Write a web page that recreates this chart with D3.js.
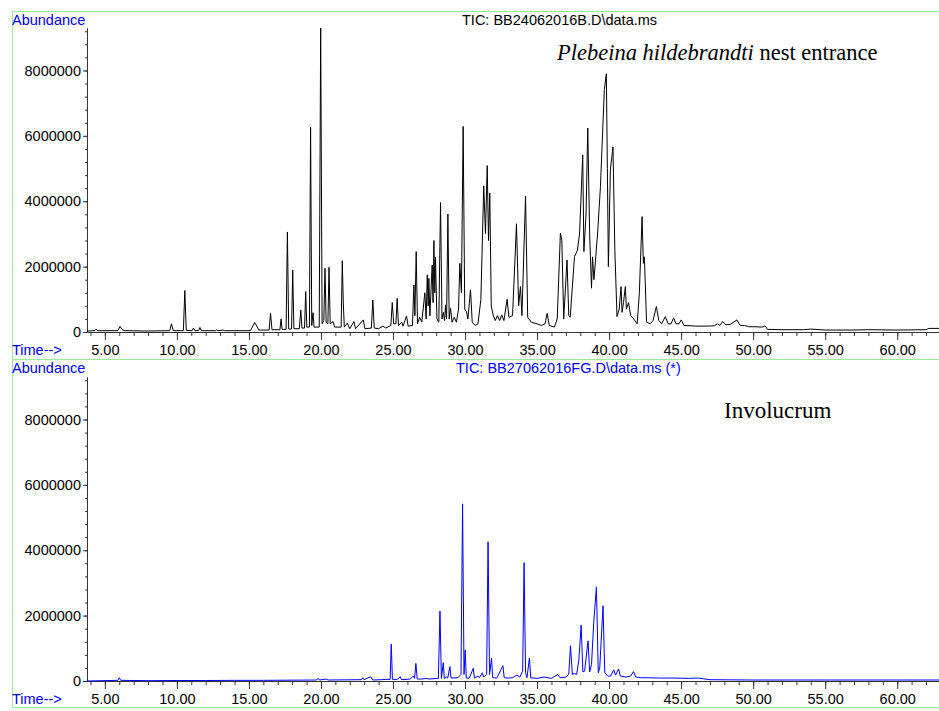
<!DOCTYPE html>
<html>
<head>
<meta charset="utf-8">
<script src="https://cdn.jsdelivr.net/npm/d3@7"></script>
<style>
  body { margin: 0; background: #fff; }
  svg { display: block; }
  text { font-family: "Liberation Sans", Arial, sans-serif; }
</style>
</head>
<body>
<svg id="chart" width="939" height="711"></svg>
<script>
// retention time window (min) and abundance range
const timeDomain = [3.76, 62.9]
const abundanceMax = 9300000
const majorTimes = [5, 10, 15, 20, 25, 30, 35, 40, 45, 50, 55, 60]
const majorAbund = [0, 2000000, 4000000, 6000000, 8000000]

// TIC, nest entrance sample: [time, abundance]
const entranceTIC = [
  [3.76, 30000], [4.3, 40000], [4.4, 90000], [4.5, 40000],
  [5.9, 40000], [6.05, 170000], [6.2, 70000], [6.4, 40000], [8.0, 30000],
  [9.5, 40000], [9.62, 250000], [9.75, 40000],
  [10.45, 40000], [10.55, 1270000], [10.65, 50000],
  [11.05, 40000], [11.15, 120000], [11.25, 40000],
  [11.5, 40000], [11.6, 140000], [11.7, 40000],
  [12.7, 40000], [12.77, 70000], [12.85, 40000], [13.2, 60000], [13.3, 40000],
  [15.1, 40000], [15.4, 290000], [15.7, 60000],
  [16.4, 60000], [16.5, 580000], [16.6, 70000],
  [17.15, 70000], [17.23, 400000], [17.3, 80000],
  [17.58, 80000], [17.67, 3060000], [17.76, 90000],
  [17.96, 90000], [18.04, 1900000], [18.12, 100000],
  [18.5, 100000], [18.6, 670000], [18.68, 120000],
  [18.86, 120000], [18.94, 1240000], [19.02, 150000],
  [19.2, 150000], [19.28, 6270000], [19.36, 200000], [19.45, 590000], [19.52, 150000],
  [19.88, 150000], [19.98, 9300000], [20.08, 250000], [20.2, 350000], [20.28, 1950000],
  [20.36, 300000], [20.48, 250000], [20.56, 1980000], [20.64, 250000],
  [20.84, 320000], [20.95, 150000],
  [21.4, 150000], [21.48, 2180000], [21.55, 890000], [21.62, 150000],
  [21.83, 270000], [22.0, 100000], [22.29, 320000], [22.4, 100000],
  [22.94, 370000], [23.05, 100000], [23.5, 120000], [23.6, 980000], [23.7, 120000],
  [24.0, 100000], [24.3, 180000], [24.5, 120000],
  [24.85, 200000], [24.95, 900000], [25.05, 250000], [25.2, 250000], [25.29, 1030000], [25.38, 200000],
  [25.6, 300000], [25.7, 180000], [25.94, 490000], [26.05, 180000],
  [26.35, 200000], [26.45, 1440000], [26.52, 500000], [26.61, 2460000], [26.7, 250000],
  [26.85, 450000], [27.0, 300000], [27.21, 1200000], [27.3, 400000], [27.38, 1750000], [27.44, 800000],
  [27.49, 1640000], [27.56, 500000], [27.72, 2050000], [27.78, 900000], [27.84, 2800000],
  [27.9, 1200000], [27.95, 2290000], [28.05, 400000], [28.18, 300000], [28.3, 3960000],
  [28.4, 400000], [28.5, 600000], [28.58, 350000], [28.65, 830000], [28.72, 400000], [28.81, 3610000], [28.9, 400000],
  [28.99, 735000], [29.1, 300000], [29.25, 450000], [29.4, 300000],
  [29.55, 700000], [29.64, 2100000], [29.75, 1200000], [29.87, 6290000], [29.98, 700000],
  [30.1, 620000], [30.2, 400000], [30.38, 1290000], [30.5, 300000], [30.7, 200000], [30.9, 250000],
  [31.1, 1000000], [31.3, 4470000], [31.42, 3000000], [31.54, 5090000], [31.63, 2800000],
  [31.72, 4250000], [31.82, 800000], [31.95, 520000], [32.1, 350000], [32.25, 500000],
  [32.4, 350000], [32.55, 520000], [32.7, 350000], [32.92, 1000000], [33.05, 450000],
  [33.3, 500000], [33.57, 3310000], [33.72, 800000], [33.85, 1390000], [33.95, 500000],
  [34.2, 4150000], [34.35, 450000], [34.6, 300000], [35.0, 250000], [35.3, 200000],
  [35.55, 250000], [35.7, 570000], [35.85, 200000], [36.2, 150000], [36.4, 400000],
  [36.62, 3030000], [36.72, 2800000], [36.85, 400000], [37.08, 2200000], [37.2, 500000],
  [37.3, 450000], [37.6, 2310000], [37.8, 2500000], [37.95, 3000000], [38.17, 5420000],
  [38.25, 2460000], [38.4, 3600000], [38.52, 6240000], [38.65, 3000000], [38.78, 1340000],
  [38.85, 2300000], [38.95, 1600000], [39.2, 3000000], [39.4, 4450000], [39.67, 7420000],
  [39.81, 7900000], [39.88, 5000000], [39.95, 2000000], [40.09, 4960000], [40.27, 5660000],
  [40.4, 2500000], [40.55, 470000], [40.7, 700000], [40.83, 1390000], [40.9, 600000],
  [41.0, 900000], [41.13, 1390000], [41.2, 700000], [41.35, 900000], [41.5, 500000],
  [41.7, 400000], [41.95, 250000], [42.1, 1200000], [42.29, 3530000], [42.38, 2100000],
  [42.45, 2300000], [42.6, 300000], [42.85, 250000], [43.05, 350000], [43.28, 780000],
  [43.45, 350000], [43.65, 250000], [43.9, 470000], [44.1, 250000], [44.3, 250000],
  [44.48, 430000], [44.65, 250000], [44.85, 250000], [45.01, 370000], [45.2, 200000],
  [46.0, 180000], [46.8, 180000], [47.3, 190000], [47.53, 250000], [47.7, 200000],
  [47.88, 320000], [48.1, 220000], [48.4, 230000], [48.87, 370000], [49.1, 200000],
  [49.4, 200000], [49.7, 160000], [50.2, 160000], [50.6, 150000], [50.84, 180000],
  [51.0, 80000], [52.0, 70000], [53.5, 70000], [54.0, 90000], [55.0, 60000],
  [57.0, 60000], [58.0, 70000], [60.0, 60000], [62.0, 70000], [62.2, 110000], [62.9, 110000]
]

// TIC, involucrum sample
const involucrumTIC = [
  [3.76, 0], [5.9, 20000], [6.0, 100000], [6.1, 20000], [8.0, 10000], [10.0, 15000],
  [12.0, 15000], [14.0, 20000], [16.0, 20000], [19.7, 30000], [19.8, 80000], [19.9, 30000],
  [20.35, 60000], [20.5, 30000], [22.8, 40000], [22.9, 100000], [23.0, 40000],
  [23.45, 130000], [23.6, 30000], [24.2, 40000], [24.5, 50000], [24.8, 50000],
  [24.88, 1130000], [24.96, 50000], [25.3, 50000], [25.5, 130000], [25.6, 40000],
  [26.2, 60000], [26.4, 150000], [26.5, 80000], [26.59, 540000], [26.68, 60000],
  [27.0, 60000], [27.3, 80000], [27.5, 60000], [28.15, 80000], [28.26, 2140000],
  [28.36, 80000], [28.49, 560000], [28.56, 80000], [28.7, 120000], [28.8, 90000],
  [28.95, 440000], [29.03, 90000], [29.5, 100000], [29.72, 200000], [29.83, 5420000],
  [29.93, 200000], [30.01, 950000], [30.09, 90000], [30.3, 90000], [30.57, 390000],
  [30.65, 90000], [30.9, 150000], [31.0, 100000], [31.2, 250000], [31.3, 120000],
  [31.5, 200000], [31.6, 4260000], [31.7, 200000], [31.84, 700000], [31.92, 100000],
  [32.2, 90000], [32.63, 470000], [32.72, 100000], [33.0, 90000], [33.3, 100000],
  [33.6, 180000], [33.8, 120000], [34.0, 300000], [34.1, 3620000], [34.2, 250000],
  [34.3, 100000], [34.47, 700000], [34.56, 100000], [35.0, 80000], [35.5, 120000],
  [36.0, 80000], [36.44, 200000], [36.6, 100000], [37.0, 120000], [37.2, 200000],
  [37.32, 1080000], [37.45, 200000], [37.6, 230000], [37.75, 200000], [37.9, 640000],
  [38.06, 1710000], [38.18, 280000], [38.3, 300000], [38.54, 1230000], [38.65, 280000],
  [38.78, 500000], [38.93, 1760000], [39.12, 2880000], [39.25, 250000], [39.35, 400000],
  [39.58, 2300000], [39.7, 250000], [39.9, 150000], [40.1, 150000], [40.32, 340000],
  [40.45, 180000], [40.66, 370000], [40.78, 150000], [41.2, 120000], [41.5, 150000],
  [41.7, 290000], [41.85, 120000], [42.2, 100000], [42.7, 100000], [43.5, 90000],
  [44.5, 90000], [45.5, 80000], [46.2, 90000], [47.0, 40000], [50.0, 30000],
  [55.0, 30000], [60.0, 30000], [62.9, 30000]
]

const panels = [
  { top: 11, yTop: 28, yZero: 332, data: entranceTIC, color: "#000",
    title: "TIC: BB24062016B.D\\data.ms", titleX: 462, titleColor: "#000",
    capItalic: "Plebeina hildebrandti", capRest: " nest entrance", capX: 557, capY: 60, capSize: "22.5px" },
  { top: 359, yTop: 377, yZero: 681, data: involucrumTIC, color: "#0000ff",
    title: "TIC: BB27062016FG.D\\data.ms (*)", titleX: 456, titleColor: "#0000ff",
    capItalic: "", capRest: "Involucrum", capX: 724, capY: 418, capSize: "23px" }
]

const width = 939
const axisLeftX = 87
const svg = d3.select("#chart")

const x = d3.scaleLinear().domain(timeDomain).range([axisLeftX, width])
const minorTimes = d3.range(4, 63, 1)
const minorAbund = d3.range(0, abundanceMax, 400000)

panels.forEach(function(p){
    const g = svg.append("g")

    // green frame
    g.append("rect")
        .attr("x", 12.5).attr("y", p.top + 0.5)
        .attr("width", width + 10).attr("height", 348)
        .attr("fill", "none").attr("stroke", "#9ee89e")

    const y = d3.scaleLinear().domain([0, abundanceMax]).range([p.yZero, p.yTop])

    // y axis: minor then major
    g.append("g")
        .attr("transform", `translate(${axisLeftX},0)`)
        .call(d3.axisLeft(y).tickValues(minorAbund).tickSize(2).tickSizeOuter(0).tickFormat(""))
    g.append("g")
        .attr("transform", `translate(${axisLeftX},0)`)
        .call(d3.axisLeft(y).tickValues(majorAbund).tickSize(4).tickSizeOuter(0).tickPadding(2)
              .tickFormat(d3.format("d")))

    // x axis
    g.append("g")
        .attr("transform", `translate(0,${p.yZero})`)
        .call(d3.axisBottom(x).tickValues(minorTimes).tickSize(4).tickSizeOuter(0).tickFormat(""))
    g.append("g")
        .attr("transform", `translate(0,${p.yZero})`)
        .call(d3.axisBottom(x).tickValues(majorTimes).tickSize(8).tickSizeOuter(0).tickPadding(5)
              .tickFormat(d3.format(".2f")))

    g.selectAll(".domain, .tick line").attr("stroke", "#333")
    g.selectAll(".tick text").attr("font-size", "14.5px").attr("fill", "#000")
        .style("font-family", '"Liberation Sans", Arial, sans-serif')

    // trace
    const line = d3.line()
        .x(d => x(d[0]))
        .y(d => y(d[1]))
    g.append("path")
        .datum(p.data)
        .attr("d", line)
        .attr("fill", "none")
        .attr("stroke", p.color)
        .attr("stroke-width", 1)
        .attr("stroke-linejoin", "round")

    // labels
    g.append("text").attr("x", 12).attr("y", p.top + 14)
        .attr("font-size", "14.5px").attr("fill", "#0000ff").text("Abundance")
    g.append("text").attr("x", 12).attr("y", p.yZero + 23)
        .attr("font-size", "14.5px").attr("fill", "#0000ff").text("Time-->")
    g.append("text").attr("x", p.titleX).attr("y", p.top + 14)
        .attr("font-size", "14.5px").attr("fill", p.titleColor).text(p.title)

    const cap = g.append("text").attr("x", p.capX).attr("y", p.capY)
        .style("font-family", '"Liberation Serif", "Times New Roman", serif')
        .attr("font-size", p.capSize).attr("fill", "#000")
    if(p.capItalic) cap.append("tspan").attr("font-style", "italic").text(p.capItalic)
    cap.append("tspan").text(p.capRest)
})
</script>
</body>
</html>
